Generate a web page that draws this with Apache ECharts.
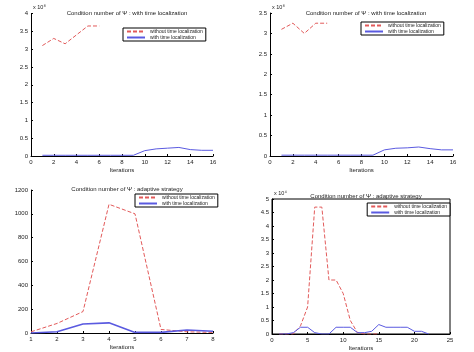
<!DOCTYPE html>
<html><head><meta charset="utf-8">
<script src="https://cdn.jsdelivr.net/npm/echarts@6/dist/echarts.min.js"></script>
<style>html,body{margin:0;padding:0;background:#fff}#c{width:474px;height:352px}</style>
</head><body><div id="c"></div>
<script>
const titles = ["Condition number of Ψ : with time localization","Condition number of Ψ : with time localization","Condition number of Ψ : adaptive strategy","Condition number of Ψ : adaptive strategy"];
const seriesNames = ["without time localization","with time localization"];
// Panel 1 (x 10^8)
const p1X_red = [1,2,3,4,5,6];
const p1Red = [3.1,3.3,3.15,3.4,3.65,3.65];
const p1X_blue = [1,2,3,4,5,6,7,8,9,10,11,12,13,14,15,16];
const p1Blue = [0.02,0.02,0.02,0.02,0.02,0.02,0.02,0.02,0.02,0.15,0.2,0.22,0.24,0.18,0.16,0.16];
// Panel 2 (x 10^8)
const p2X_red = [1,2,3,4,5];
const p2Red = [3.1,3.25,3.0,3.25,3.25];
const p2X_blue = [1,2,3,4,5,6,7,8,9,10,11,12,13,14,15,16];
const p2Blue = [0.02,0.02,0.02,0.02,0.02,0.02,0.02,0.02,0.02,0.15,0.19,0.2,0.22,0.18,0.15,0.15];
// Panel 3
const p3X = [1,2,3,4,5,6,7,8];
const p3Red = [10,80,180,1080,1000,30,10,5];
const p3Blue = [0,10,75,85,5,5,25,15];
// Panel 4 (x 10^4)
const p4X_red = [1,2,3,4,5,6,7,8,9,10,11,12,13,14,15];
const p4Red = [0,0,0,0.3,1.0,4.7,4.7,2.0,2.0,1.5,0.5,0.05,0,0,0];
const p4X_blue = [1,2,3,4,5,6,7,8,9,10,11,12,13,14,15,16,17,18,19,20,21,22];
const p4Blue = [0,0,0.05,0.25,0.25,0.05,0,0,0.25,0.25,0.25,0.05,0.05,0.1,0.35,0.25,0.25,0.25,0.25,0.1,0.1,0];
const exps = ["x 10⁸","x 10⁸","","x 10⁴"];

const pair = (xs, ys) => xs.map((x,i)=>[x, ys[i]]);
const RED = '#e25a5a', BLUE = '#5a5ae0';
const grids = [
  {left:31, top:13.5, width:182, height:142.5},
  {left:270, top:13, width:183, height:143},
  {left:31, top:190, width:182, height:143},
  {left:272, top:199, width:178, height:136, show:true, borderColor:'#000', borderWidth:1}
];
const xCfg = [[0,16,2],[0,16,2],[1,8,1],[0,25,5]];
const yCfg = [[0,4,0.5],[0,3.5,0.5],[0,1200,200],[0,5,0.5]];
const lab = {fontSize:6, color:'#222', fontFamily:'Liberation Sans'};
const xAxis = xCfg.map((c,i)=>({type:'value', gridIndex:i, min:c[0], max:c[1], interval:c[2],
  axisLine:{lineStyle:{color:'#000', width:1}}, axisTick:{inside:true, length:2, lineStyle:{color:'#000'}},
  axisLabel:Object.assign({margin:3, formatter:v=>String(v)}, lab), splitLine:{show:false},
  name:'Iterations', nameLocation:'middle', nameGap:11, nameTextStyle:{fontSize:6, color:'#222', fontFamily:'Liberation Sans'}}));
const yAxis = yCfg.map((c,i)=>({type:'value', gridIndex:i, min:c[0], max:c[1], interval:c[2],
  axisLine:{show:true, lineStyle:{color:'#000', width:1}}, axisTick:{show:true, inside:true, length:2, lineStyle:{color:'#000'}},
  axisLabel:Object.assign({margin:3, formatter:v=>String(v)}, lab), splitLine:{show:false}}));
function ln(name, data, idx, color, dashed, w){
  return {type:'line', name, xAxisIndex:idx, yAxisIndex:idx, data, symbol:'none', smooth:false,
    lineStyle:{color, width:w||1, type:dashed?[4,2]:'solid'}, itemStyle:{color}, animation:false};
}
const series = [
  ln(seriesNames[0], pair(p1X_red,p1Red), 0, RED, true),
  ln(seriesNames[1], pair(p1X_blue,p1Blue), 0, BLUE, false),
  ln(seriesNames[0], pair(p2X_red,p2Red), 1, RED, true),
  ln(seriesNames[1], pair(p2X_blue,p2Blue), 1, BLUE, false),
  ln(seriesNames[0], pair(p3X,p3Red), 2, RED, true),
  ln(seriesNames[1], pair(p3X,p3Blue), 2, BLUE, false, 1.6),
  ln(seriesNames[0], pair(p4X_red,p4Red), 3, RED, true),
  ln(seriesNames[1], pair(p4X_blue,p4Blue), 3, BLUE, false),
];
const legPos = [{left:123, top:28},{left:361, top:22},{left:135, top:194},{right:24, top:203}];
const legend = legPos.map(p=>Object.assign({orient:'vertical', data:seriesNames,
  borderColor:'#000', borderWidth:1, backgroundColor:'#fff', padding:[1,3,1,3], itemGap:1,
  itemWidth:18, itemHeight:5, itemStyle:{color:'rgba(0,0,0,0)', borderWidth:0, opacity:0},
  textStyle:{fontSize:5, color:'#222', fontFamily:'Liberation Sans'}, selectedMode:false}, p));
const titleTops = [5, 5, 181, 188];
const titleCenters = [122, 361, 122, 361];
const title = titles.map((t,i)=>({text:t, left:titleCenters[i], top:titleTops[i], textAlign:'center',
  textStyle:{fontSize:6, fontWeight:'normal', color:'#222', fontFamily:'Liberation Sans'}}));
const graphic = exps.map((e,i)=> e ? {type:'text', left:grids[i].left+2, top:grids[i].top-9,
  style:{text:e, fontSize:5.5, fill:'#222', fontFamily:'Liberation Sans'}} : null).filter(Boolean);
const chart = echarts.init(document.getElementById('c'), null, {renderer:'canvas'});
chart.setOption({animation:false, backgroundColor:'#fff', title, grid:grids, xAxis, yAxis, series, legend, graphic});
</script></body></html>
